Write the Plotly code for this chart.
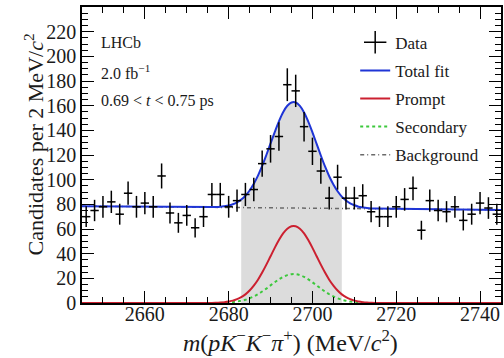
import plotly.graph_objects as go
import numpy as np

# ---- Data ----
mass_centers = [2646, 2648, 2650, 2652, 2654, 2656, 2658, 2660, 2662, 2664,
                2666, 2668, 2670, 2672, 2674, 2676, 2678, 2680, 2682, 2684,
                2686, 2688, 2690, 2692, 2694, 2696, 2698, 2700, 2702, 2704,
                2706, 2708, 2710, 2712, 2714, 2716, 2718, 2720, 2722, 2724,
                2726, 2728, 2730, 2732, 2734, 2736, 2738, 2740, 2742, 2744]
candidates = [70, 75, 78, 82, 72, 89, 78, 81, 78, 103,
              73, 65, 71, 61, 70, 88, 88, 78, 83, 88,
              92, 113, 125, 135, 177, 172, 143, 123, 107, 85,
              102, 85, 85, 87, 74, 70, 70, 78, 84, 93,
              59, 83, 75, 74, 78, 67, 72, 81, 77, 72]
candidate_errors = list(np.sqrt(candidates))

# Fit curves
fit_mass = [2645] + list(range(2676, 2716)) + [2745]
total_fit = [78.5,
             77.8, 77.8, 78.0, 78.5, 79.1, 80.1, 81.6, 83.9, 87.0, 91.2,
             96.7, 103.3, 111.1, 120.0, 129.4, 138.6, 147.3, 154.7, 159.9, 162.6,
             162.6, 159.8, 154.5, 147.1, 138.4, 129.0, 119.6, 110.7, 102.8, 96.1,
             90.6, 86.3, 83.1, 80.8, 79.3, 78.1, 77.5, 77.0, 76.7, 76.6,
             75.5]
prompt = [0.0,
          0.1, 0.2, 0.4, 0.7, 1.2, 1.9, 3.1, 4.7, 7.0, 10.1,
          14.1, 18.9, 24.7, 31.1, 37.9, 44.7, 51.0, 56.4, 60.2, 62.2,
          62.2, 60.2, 56.4, 51.0, 44.7, 37.9, 31.1, 24.7, 18.9, 14.1,
          10.1, 7.0, 4.7, 3.1, 1.9, 1.2, 0.7, 0.4, 0.2, 0.1,
          0.0]
secondary = [0.0,
             0.0, 0.1, 0.1, 0.3, 0.4, 0.7, 1.2, 1.8, 2.6, 3.8,
             5.3, 7.1, 9.3, 11.7, 14.3, 16.8, 19.2, 21.2, 22.6, 23.4,
             23.4, 22.6, 21.2, 19.2, 16.8, 14.3, 11.7, 9.3, 7.1, 5.3,
             3.8, 2.6, 1.8, 1.2, 0.7, 0.4, 0.3, 0.1, 0.1, 0.0,
             0.0]
bkg_mass = [2645, 2745]
background = [78.5, 75.5]

signal_window = [2683, 2707]

y_tickvals = list(range(0, 221, 20))

SERIF = "Liberation Serif, Times New Roman, serif"
TXT = "#1a1a1a"

fig = go.Figure()

# shaded signal window under the total fit
win_x = [m for m in fit_mass if signal_window[0] <= m <= signal_window[1]]
win_y = [t for m, t in zip(fit_mass, total_fit) if signal_window[0] <= m <= signal_window[1]]
fig.add_trace(go.Scatter(x=win_x, y=win_y, mode="lines", line=dict(width=0, shape="spline"),
                         fill="tozeroy", fillcolor="#dcdcdc", showlegend=False, hoverinfo="skip"))

fig.add_trace(go.Scatter(x=bkg_mass, y=background, mode="lines", name="Background",
                         line=dict(color="#6a6a6a", width=1.5, dash="4px,3px,1px,3px"),
                         legendrank=5, legendgroup="e"))
fig.add_trace(go.Scatter(x=fit_mass, y=secondary, mode="lines", name="Secondary",
                         line=dict(color="#3cc83c", width=2, dash="dot", shape="spline"),
                         legendrank=4, legendgroup="d"))
fig.add_trace(go.Scatter(x=fit_mass, y=prompt, mode="lines", name="Prompt",
                         line=dict(color="#cc2030", width=2, shape="spline"),
                         legendrank=3, legendgroup="c"))
fig.add_trace(go.Scatter(x=fit_mass, y=total_fit, mode="lines", name="Total fit",
                         line=dict(color="#1f35d6", width=2, shape="spline"),
                         legendrank=2, legendgroup="b"))
fig.add_trace(go.Scatter(x=mass_centers, y=candidates, mode="markers", showlegend=False,
                         marker=dict(size=2, color="black"),
                         error_y=dict(type="data", array=candidate_errors, thickness=1.5, width=0, color="black"),
                         error_x=dict(type="constant", value=1, thickness=1.5, width=0, color="black")))
fig.add_trace(go.Scatter(x=[None], y=[None], mode="markers", name="Data",
                         marker=dict(symbol="cross-thin", size=16, line=dict(width=1.5, color="black")),
                         legendrank=1, legendgroup="a"))

axis_common = dict(showline=True, linecolor="black", linewidth=1.5, mirror="allticks",
                   ticks="inside", tickcolor="black", tickwidth=1.2, ticklen=12,
                   showgrid=False, zeroline=False,
                   tickfont=dict(family=SERIF, size=20, color=TXT))

fig.update_xaxes(range=[2645, 2745], tick0=2660, dtick=20, ticklabelstandoff=-8,
                 minor=dict(ticks="inside", dtick=5, tick0=2660, ticklen=6, tickcolor="black", tickwidth=1.2),
                 **axis_common)
fig.update_yaxes(range=[0, 240], tickmode="array", tickvals=y_tickvals,
                 minor=dict(ticks="inside", tickmode="linear", dtick=5, tick0=0, ticklen=6,
                            tickcolor="black", tickwidth=1.2),
                 **axis_common)

fig.add_annotation(text="Candidates per 2 MeV/<i>c</i><sup>2</sup>", xref="paper", yref="paper",
                   x=-0.153, y=0.535, textangle=-90, showarrow=False,
                   font=dict(family=SERIF, size=22, color=TXT))
fig.add_annotation(text="<i>m</i>(<i>pK</i><sup>−</sup><i>K</i><sup>−</sup><i>π</i><sup>+</sup>) (MeV/<i>c</i><sup>2</sup>)",
                   xref="paper", yref="paper", x=0.497, y=-0.13, yanchor="middle", showarrow=False,
                   font=dict(family=SERIF, size=24, color=TXT))

for txt, yp in [("LHCb", 0.880), ("2.0 fb<sup>−1</sup>", 0.782), ("0.69 &lt; <i>t</i> &lt; 0.75 ps", 0.684)]:
    fig.add_annotation(text=txt, xref="paper", yref="paper", x=0.041, y=yp, xanchor="left",
                       yanchor="middle", showarrow=False,
                       font=dict(family=SERIF, size=16, color=TXT))

fig.update_layout(
    width=504, height=358,
    margin=dict(l=82, r=1, t=7, b=55),
    paper_bgcolor="white", plot_bgcolor="white",
    legend=dict(x=0.652, y=0.94, xanchor="left", yanchor="top", bgcolor="rgba(0,0,0,0)",
                font=dict(family=SERIF, size=17, color=TXT), tracegroupgap=3,
                traceorder="grouped"),
    showlegend=True,
)

fig.write_html("out.html")
